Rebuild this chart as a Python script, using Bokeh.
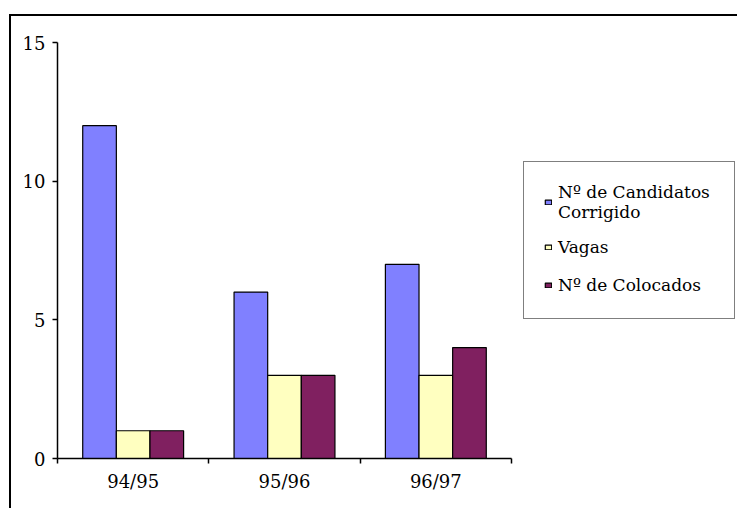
import numpy as np
from bokeh.plotting import figure
from bokeh.models import ColumnDataSource, Range1d, FixedTicker, Legend, LegendItem
from bokeh.transform import dodge
from bokeh.embed import file_html
from bokeh.resources import INLINE

# ---- data ----
categories = ["94/95", "95/96", "96/97"]
candidatos = [12, 6, 7]
vagas = [1, 3, 3]
colocados = [1, 3, 4]
series_names = ["Nº de Candidatos\nCorrigido", "Vagas", "Nº de Colocados"]
y_ticks = [0, 5, 10, 15]

colors = ["#8080FF", "#FFFFC0", "#802060"]
FONT = "DejaVu Serif"

idx = np.arange(len(categories))
bar_w = 2 / 9
offsets = [-bar_w, 0.0, bar_w]
src = ColumnDataSource(dict(
    xc=idx + 0.5,
    candidatos=candidatos, vagas=vagas, colocados=colocados,
))

p = figure(width=726, height=492, frame_width=454, frame_height=416,
           min_border_left=46, min_border_right=226, min_border_top=26, min_border_bottom=50,
           x_range=Range1d(0, len(categories)), y_range=Range1d(0, 15),
           output_backend="svg", toolbar_location=None, tools="")
p.outline_line_color = None
p.xgrid.visible = False
p.ygrid.visible = False
p.background_fill_color = "white"
p.border_fill_color = "white"
p.margin = (14, 0, 0, 9)
p.styles = {"border-left": "2px solid black", "border-top": "2px solid black"}

renderers = []
for col, off, c in zip(["candidatos", "vagas", "colocados"], offsets, colors):
    r = p.vbar(x=dodge("xc", off), top=col, width=bar_w, source=src,
               fill_color=c, line_color="black", line_width=1.2)
    renderers.append(r)

# x axis: labels at category centres, ticks at category boundaries
p.xaxis.ticker = FixedTicker(ticks=list(idx + 0.5), minor_ticks=list(range(len(categories) + 1)))
p.xaxis.major_label_overrides = {float(i + 0.5): c for i, c in enumerate(categories)}
p.xaxis.major_tick_out = 0
p.xaxis.major_tick_in = 0
p.xaxis.minor_tick_out = 5
p.xaxis.minor_tick_in = 0
p.xaxis.major_label_standoff = 7

p.yaxis.ticker = FixedTicker(ticks=y_ticks, minor_ticks=[])
p.yaxis.major_tick_out = 5
p.yaxis.major_tick_in = 0
p.yaxis.major_label_standoff = 7

for ax in (p.xaxis[0], p.yaxis[0]):
    ax.axis_line_color = "black"
    ax.axis_line_width = 1.5
    ax.major_tick_line_color = "black"
    ax.major_tick_line_width = 1.5
    ax.minor_tick_line_color = "black"
    ax.minor_tick_line_width = 1.5
    ax.major_label_text_font = FONT
    ax.major_label_text_font_size = "18px"
    ax.major_label_text_color = "black"

legend = Legend(items=[LegendItem(label=n, renderers=[r]) for n, r in zip(series_names, renderers)],
                location=(12, 139))
legend.label_text_font = FONT
legend.label_text_font_size = "17px"
legend.label_text_color = "black"
legend.glyph_width = 8
legend.glyph_height = 6
legend.label_standoff = 6
legend.label_width = 156
legend.label_height = 26
legend.padding = 20
legend.spacing = 12
legend.margin = 0
legend.border_line_color = "black"
legend.border_line_width = 1.5
legend.background_fill_color = "white"
legend.background_fill_alpha = 1
p.add_layout(legend, "right")

open("out.html", "w").write(file_html(p, INLINE))
